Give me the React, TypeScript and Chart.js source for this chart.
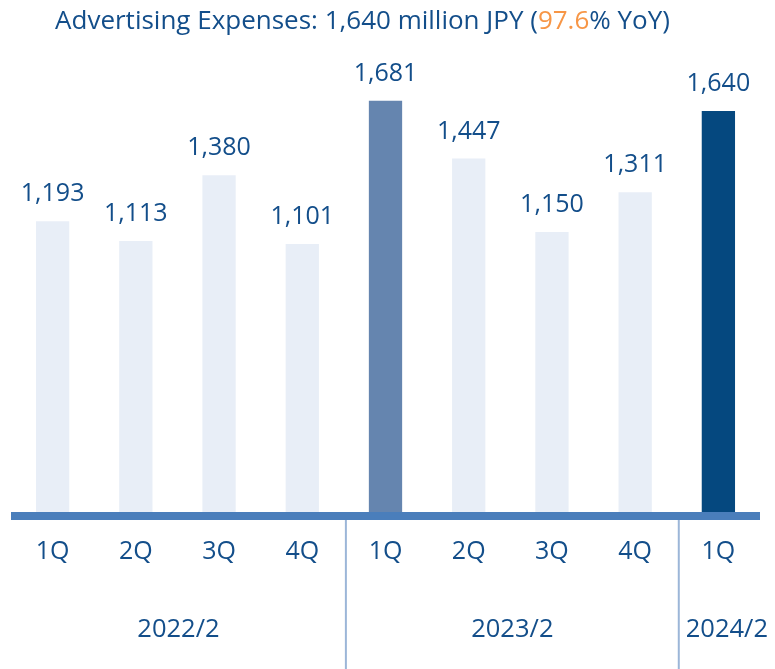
import { useEffect, useRef } from "react";
import { Chart, registerables } from "chart.js";

Chart.register(...registerables);

const quarters = ["1Q", "2Q", "3Q", "4Q", "1Q", "2Q", "3Q", "4Q", "1Q"];
const fiscalYears = ["2022/2", "2023/2", "2024/2"];
const yearOfQuarter = [0, 0, 0, 0, 1, 1, 1, 1, 2];
const expenses = [1193, 1113, 1380, 1101, 1681, 1447, 1150, 1311, 1640];
const titleMain = "Advertising Expenses: 1,640 million JPY (";
const titleHighlight = "97.6";
const titleTail = "% YoY)";

const FONT = '"Open Sans", "Noto Sans", sans-serif';
const TEXT = "#134E8A";
const ORANGE = "#F79646";
const LIGHT = "#E8EEF7";
const MID = "#6585AF";
const DARK = "#05487F";
const AXIS = "#4A7EBB";
const SEP = "#9CB6D8";

const currentIndex = expenses.length - 1;
const prevYearIndex = currentIndex - 4;

const overlay = {
  id: "overlay",
  afterDatasetsDraw(chart: any) {
    const ctx = chart.ctx;
    const area = chart.chartArea;
    const xs = chart.scales.x;
    const meta = chart.getDatasetMeta(0);
    ctx.save();
    // value labels
    ctx.font = `25px ${FONT}`;
    ctx.fillStyle = TEXT;
    ctx.textAlign = "center";
    ctx.textBaseline = "alphabetic";
    meta.data.forEach((bar: any, i: number) => {
      ctx.fillText(expenses[i].toLocaleString("en-US"), bar.x, bar.y - 20);
    });
    // axis line
    ctx.fillStyle = AXIS;
    ctx.fillRect(area.left, area.bottom - 4, area.right - area.left, 8);
    // separators
    const bounds: number[] = [area.left];
    for (let i = 1; i < yearOfQuarter.length; i++) {
      if (yearOfQuarter[i] !== yearOfQuarter[i - 1]) {
        const bx = (xs.getPixelForValue(i - 1) + xs.getPixelForValue(i)) / 2 + 2;
        bounds.push(bx);
        ctx.strokeStyle = SEP;
        ctx.lineWidth = 2;
        ctx.beginPath();
        ctx.moveTo(bx, area.bottom + 4);
        ctx.lineTo(bx, chart.height);
        ctx.stroke();
      }
    }
    bounds.push(chart.width);
    // year labels
    ctx.fillStyle = TEXT;
    ctx.font = `25.5px ${FONT}`;
    ctx.textAlign = "center";
    ctx.textBaseline = "alphabetic";
    fiscalYears.forEach((fy, g) => {
      ctx.fillText(fy, (bounds[g] + bounds[g + 1]) / 2, 637);
    });
    // title
    ctx.font = `26px ${FONT}`;
    ctx.textAlign = "left";
    const w1 = ctx.measureText(titleMain).width;
    const w2 = ctx.measureText(titleHighlight).width;
    const w3 = ctx.measureText(titleTail).width;
    let tx = 362.5 - (w1 + w2 + w3) / 2;
    ctx.fillStyle = TEXT;
    ctx.fillText(titleMain, tx, 29);
    tx += w1;
    ctx.fillStyle = ORANGE;
    ctx.fillText(titleHighlight, tx, 29);
    tx += w2;
    ctx.fillStyle = TEXT;
    ctx.fillText(titleTail, tx, 29);
    ctx.restore();
  },
};

export default function App() {
  const ref = useRef<HTMLCanvasElement | null>(null);
  useEffect(() => {
    if (!ref.current) return;
    const colors = expenses.map((_, i) =>
      i === currentIndex ? DARK : i === prevYearIndex ? MID : LIGHT
    );
    const chart = new Chart(ref.current, {
      type: "bar",
      data: {
        labels: quarters,
        datasets: [
          {
            data: expenses,
            backgroundColor: colors,
            borderWidth: 0,
            categoryPercentage: 1,
            barPercentage: 0.4,
          },
        ],
      },
      options: {
        responsive: false,
        animation: false,
        layout: { padding: { left: 11, right: 15, top: 22, bottom: 0 } },
        plugins: { legend: { display: false }, tooltip: { enabled: false }, title: { display: false } },
        scales: {
          x: {
            grid: { display: false, drawTicks: false },
            border: { display: false },
            ticks: { color: TEXT, font: { family: FONT, size: 25 }, padding: 21, maxRotation: 0 },
            afterFit: (s: any) => {
              s.height = 153;
            },
          },
          y: { display: false, min: 0, max: 2000 },
        },
      },
      plugins: [overlay],
    });
    return () => chart.destroy();
  }, []);
  return (
    <div style={{ position: "fixed", left: 0, top: 0, width: 775, height: 669, background: "#fff" }}>
      <canvas ref={ref} width={775} height={669} style={{ display: "block" }} />
    </div>
  );
}
